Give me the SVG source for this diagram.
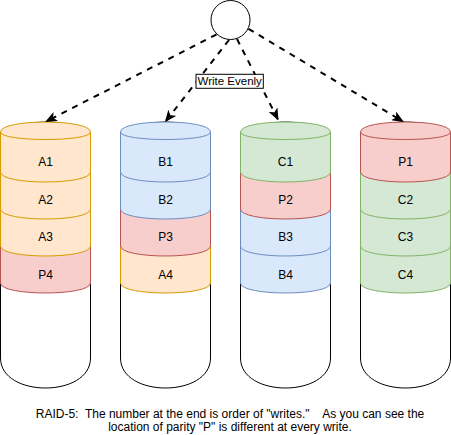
<svg xmlns="http://www.w3.org/2000/svg" width="451" height="435" viewBox="0 0 451 435">
<defs>
<style>
.lbl{font-family:"Liberation Sans",Arial,sans-serif;font-size:12px;fill:#000;text-anchor:middle;dominant-baseline:central}
.o{fill:#ffe6cc;stroke:#d79b00}
.b{fill:#dae8fc;stroke:#6c8ebf}
.g{fill:#d5e8d4;stroke:#82b366}
.r{fill:#f8cecc;stroke:#b85450}
.seg path{stroke-width:1}
.arc{fill:none}
.outer{fill:#fff;stroke:#000;stroke-width:1}
.edge{fill:none;stroke:#000;stroke-width:2;stroke-dasharray:6 6}
.note{font-family:"Liberation Sans",Arial,sans-serif;font-size:12px;fill:#000;text-anchor:middle;white-space:pre}
</style>
<path id="segBody" d="M0,10 C0,-3.33 90,-3.33 90,10 L90,50 C90,63.33 0,63.33 0,50 Z"/>
<path id="segArc" d="M0,10 C0,20 90,20 90,10"/>
<marker id="arrow" markerUnits="userSpaceOnUse" viewBox="0 0 12 10" markerWidth="12" markerHeight="10" refX="11" refY="5" orient="auto">
<path d="M0,0 L12,5 L0,10 L3,5 Z" fill="#000"/>
</marker>
</defs>
<rect width="451" height="435" fill="#fff"/>

<g id="disk1" transform="translate(0.5,0)">
<path class="outer" d="M0,152 C0,112 90,112 90,152 L90,358 C90,398 0,398 0,358 Z"/>
<g class="seg r" transform="translate(0,233)"><use href="#segBody"/><use href="#segArc" class="arc"/></g>
<g class="seg o" transform="translate(0,196)"><use href="#segBody"/><use href="#segArc" class="arc"/></g>
<g class="seg o" transform="translate(0,159)"><use href="#segBody"/><use href="#segArc" class="arc"/></g>
<g class="seg o" transform="translate(0,122)"><use href="#segBody"/><use href="#segArc" class="arc"/></g>
<text class="lbl" x="45" y="162">A1</text>
<text class="lbl" x="45" y="199.5">A2</text>
<text class="lbl" x="45" y="237">A3</text>
<text class="lbl" x="45" y="274.5">P4</text>
</g>

<g id="disk2" transform="translate(120.5,0)">
<path class="outer" d="M0,152 C0,112 90,112 90,152 L90,358 C90,398 0,398 0,358 Z"/>
<g class="seg o" transform="translate(0,233)"><use href="#segBody"/><use href="#segArc" class="arc"/></g>
<g class="seg r" transform="translate(0,196)"><use href="#segBody"/><use href="#segArc" class="arc"/></g>
<g class="seg b" transform="translate(0,159)"><use href="#segBody"/><use href="#segArc" class="arc"/></g>
<g class="seg b" transform="translate(0,122)"><use href="#segBody"/><use href="#segArc" class="arc"/></g>
<text class="lbl" x="45" y="162">B1</text>
<text class="lbl" x="45" y="199.5">B2</text>
<text class="lbl" x="45" y="237">P3</text>
<text class="lbl" x="45" y="274.5">A4</text>
</g>

<g id="disk3" transform="translate(240.5,0)">
<path class="outer" d="M0,152 C0,112 90,112 90,152 L90,358 C90,398 0,398 0,358 Z"/>
<g class="seg b" transform="translate(0,233)"><use href="#segBody"/><use href="#segArc" class="arc"/></g>
<g class="seg b" transform="translate(0,196)"><use href="#segBody"/><use href="#segArc" class="arc"/></g>
<g class="seg r" transform="translate(0,159)"><use href="#segBody"/><use href="#segArc" class="arc"/></g>
<g class="seg g" transform="translate(0,122)"><use href="#segBody"/><use href="#segArc" class="arc"/></g>
<text class="lbl" x="45" y="162">C1</text>
<text class="lbl" x="45" y="199.5">P2</text>
<text class="lbl" x="45" y="237">B3</text>
<text class="lbl" x="45" y="274.5">B4</text>
</g>

<g id="disk4" transform="translate(360.5,0)">
<path class="outer" d="M0,152 C0,112 90,112 90,152 L90,358 C90,398 0,398 0,358 Z"/>
<g class="seg g" transform="translate(0,233)"><use href="#segBody"/><use href="#segArc" class="arc"/></g>
<g class="seg g" transform="translate(0,196)"><use href="#segBody"/><use href="#segArc" class="arc"/></g>
<g class="seg g" transform="translate(0,159)"><use href="#segBody"/><use href="#segArc" class="arc"/></g>
<g class="seg r" transform="translate(0,122)"><use href="#segBody"/><use href="#segArc" class="arc"/></g>
<text class="lbl" x="45" y="162">P1</text>
<text class="lbl" x="45" y="199.5">C2</text>
<text class="lbl" x="45" y="237">C3</text>
<text class="lbl" x="45" y="274.5">C4</text>
</g>

<g id="source">
<circle cx="230.5" cy="20" r="19.5" fill="#fff" stroke="#000" stroke-width="1"/>
</g>

<g id="connectors">
<line class="edge" x1="216.5" y1="34.5" x2="46" y2="121.5" marker-end="url(#arrow)"/>
<line class="edge" x1="229" y1="40" x2="165.5" y2="121.5" marker-end="url(#arrow)"/>
<line class="edge" x1="237" y1="39" x2="278" y2="119.5" marker-end="url(#arrow)"/>
<line class="edge" x1="248.5" y1="28.8" x2="403" y2="121.5" marker-end="url(#arrow)"/>
<rect x="196" y="74.3" width="67.3" height="14" fill="#fff" stroke="#000" stroke-width="1"/>
<text class="lbl" x="229.7" y="81.3" style="font-size:11.5px">Write Evenly</text>
</g>

<g id="caption">
<text class="note" x="230" y="417.5" xml:space="preserve">RAID-5:  The number at the end is order of "writes."    As you can see the</text>
<text class="note" x="230" y="431" xml:space="preserve">location of parity "P" is different at every write.</text>
</g>
</svg>
